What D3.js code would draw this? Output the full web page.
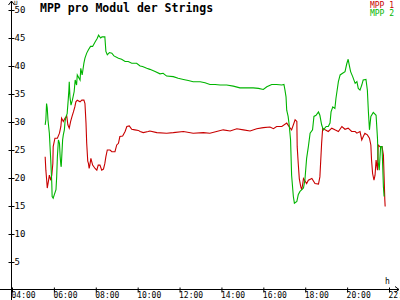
<!DOCTYPE html>
<html><head><meta charset="utf-8">
<script src="https://cdn.jsdelivr.net/npm/d3@7"></script>
<style>
html,body{margin:0;padding:0;background:#fff;}
svg{display:block;}
text{font-family:"DejaVu Sans Mono","Liberation Mono",monospace;}
</style></head>
<body><svg id="c" width="400" height="300"></svg>
<script>
// time in minutes after midnight, voltage in V
const title = "MPP pro Modul der Strings";
const seriesNames = ["MPP 1", "MPP 2"];
const xTickValues = [240, 360, 480, 600, 720, 840, 960, 1080, 1200, 1320];
const xTickLabels = ["04:00","06:00","08:00","10:00","12:00","14:00","16:00","18:00","20:00","22:00"];
const yTickValues = [5,10,15,20,25,30,35,40,45,50];
const yUnit = "U";
const xUnit = "h";

const mpp1Time = [335,337,339,341,344,347,351,354,357,358,363,370,376,380,382,387,392,397,400,404,408,412,416,420,423,427,435,440,446,449,452,454,457,459,461,463,466,471,478,483,487,492,497,502,506,509,513,521,526,535,540,545,549,557,564,569,576,583,592,602,607,616,630,635,655,683,702,731,759,788,807,826,845,865,884,903,922,941,960,979,989,998,1013,1027,1036,1041,1051,1056,1057,1060,1063,1067,1070,1073,1075,1079,1084,1089,1099,1108,1118,1122,1127,1130,1137,1146,1156,1165,1175,1185,1194,1203,1213,1223,1228,1237,1242,1247,1251,1258,1264,1268,1270,1273,1277,1280,1283,1287,1289,1294,1300,1304,1306,1308,1309];
const mpp1Value = [23.8,21.4,19.9,18.2,19.3,20.5,19.6,20.5,22.6,25.6,27.1,27.1,28,29.2,30.7,30.1,30.7,31,29.5,28.9,30.1,31,31.8,32.7,33.6,33.9,33.6,33.9,33.9,33.3,29.8,26.2,23,22.6,21.7,22.3,23.5,22.3,21.7,21.4,22.3,22.3,21.4,21.6,22.6,23.8,25,25,24.7,24.7,25.9,26.2,27.4,27.5,28.3,29.2,29.3,28.7,28.6,28.5,28.3,28.1,28.3,28.4,28.1,28,28.1,28.3,28,28.1,28,28.3,28.6,28.4,28.8,28.6,28.4,28.8,29,29.1,28.8,29.2,29.2,29.8,29,28.6,30.4,30.1,25.6,22.6,19.9,18.5,17.9,19,19.9,19.5,19,19.6,19.9,19,18.9,20.2,26.2,28.9,28.6,28.3,28.9,28.6,28.3,29.2,28.7,28.9,28.3,28.3,28,28.3,26.8,27.5,28,27.7,27.1,25.9,23.2,20.8,19.6,20.5,23.2,21.4,25.9,25.6,25.6,24.1,20.2,16.1,14.9];

const mpp2Time = [335,337,339,341,343,347,351,354,355,358,361,366,368,370,373,376,378,380,381,383,385,387,390,392,395,398,401,403,404,406,409,413,418,421,425,427,435,437,441,446,449,454,459,465,471,478,484,488,494,498,506,509,513,519,526,532,545,554,564,573,583,597,607,614,626,635,650,664,673,683,702,716,731,745,759,779,793,807,822,836,855,874,893,912,931,946,960,970,984,998,1013,1019,1022,1025,1027,1031,1034,1038,1041,1046,1049,1056,1060,1065,1075,1079,1084,1089,1094,1101,1105,1111,1118,1122,1127,1132,1140,1146,1151,1154,1159,1165,1168,1175,1180,1187,1194,1199,1203,1206,1210,1216,1223,1228,1232,1237,1242,1246,1254,1258,1261,1264,1268,1275,1283,1287,1289,1292,1296,1300,1304,1306];
const mpp2Value = [29.5,30.4,33.3,32.5,30.4,28,23.2,19,16.7,16.4,17,17.9,20.2,23.8,26.8,26.2,23.8,22.3,22,24.4,26.8,27.7,28.6,30.1,31,31.5,33.9,35.7,37.2,34.5,33,33.9,35.4,37.5,36.6,38.4,37.5,39.6,38.4,40.5,41.4,42.3,42.9,43.5,43.5,44.3,44.9,45.5,45.0,45.2,45.2,42.6,42,42.4,42.3,41.8,41.4,41.2,40.8,40.8,40.5,40.5,40.0,39.9,39.6,39.4,39,38.6,38.7,38.2,38.1,37.8,37.6,37.4,37.2,37.2,37,36.7,36.7,36.6,36.6,36.4,36.1,36.1,36.1,36.0,35.8,36.3,36.7,36.7,36.6,36.7,35.7,34.5,32.1,31,29.5,26.8,20.5,16.7,15.5,15.8,17,17.6,18.2,19.6,23.5,25.6,28,28.6,31,31.2,31.8,31.2,29.5,28.6,29.2,29.2,29.8,31.8,32.7,32.4,34.2,37.2,38.4,38.7,39,40.4,41.2,40.2,39,38.1,36.9,37.2,36,35.7,36.6,37.5,37.6,35.7,31.8,28.6,31,31.7,31.2,27.1,22.9,21.4,25.6,25.6,18.4,16.7];

const colors = ["#c80000", "#00b400"];

const svg = d3.select("#c");
const x = d3.scaleLinear().domain([240, 1320]).range([12, 389]);
const y = d3.scaleLinear().domain([0, 50]).range([290, 10]);
const ax0 = 11.5, ay0 = 289.5;

// axes lines with arrows
const g = svg.append("g").attr("stroke", "#000").attr("fill", "none").attr("stroke-width", 1);
g.append("line").attr("x1", ax0).attr("x2", ax0).attr("y1", 300).attr("y2", 1);
g.append("path").attr("d", `M${ax0-3},${5} L${ax0},${1} L${ax0+3},${5}`);
g.append("line").attr("x1", 0).attr("x2", 399).attr("y1", ay0).attr("y2", ay0);
g.append("path").attr("d", `M${395},${ay0-3} L${399},${ay0} L${395},${ay0+3}`);

// y axis
const yAxis = d3.axisRight(y).tickValues(yTickValues).tickSize(3).tickSizeOuter(0).tickFormat(d3.format("d"));
const ya = svg.append("g").attr("transform", `translate(${ax0},0)`).call(yAxis);
ya.select(".domain").remove();
ya.selectAll(".tick line").attr("x1", -3).attr("x2", 3).attr("stroke", "#000");
ya.selectAll(".tick text").attr("x", 3).attr("font-size", 9).attr("font-family", "DejaVu Sans Mono").attr("fill", "#000");

// x axis
const xAxis = d3.axisBottom(x).tickValues(xTickValues).tickSize(4).tickSizeOuter(0).tickFormat((d, i) => xTickLabels[i]);
const xa = svg.append("g").attr("transform", `translate(0,${ay0})`).call(xAxis);
xa.select(".domain").remove();
xa.selectAll(".tick line").attr("y1", -2).attr("y2", 3).attr("stroke", "#000");
xa.selectAll(".tick text").attr("text-anchor", "start").attr("x", -1).attr("y", 3).attr("dy", "0.71em")
  .attr("font-size", 8).attr("font-family", "DejaVu Sans Mono").attr("fill", "#000");

// unit labels
svg.append("text").attr("x", 14).attr("y", 5).attr("font-size", 6).text(yUnit);
svg.append("text").attr("x", 385).attr("y", 284).attr("font-size", 8).text(xUnit);

// lines
const line = d3.line().x(d => x(d[0])).y(d => y(d[1]));
const series = [d3.zip(mpp1Time, mpp1Value), d3.zip(mpp2Time, mpp2Value)];
series.forEach((s, i) => {
  svg.append("path").datum(s).attr("d", line).attr("fill", "none")
    .attr("stroke", colors[i]).attr("stroke-width", 1.1).attr("stroke-linejoin", "miter");
});

// title
svg.append("text").attr("x", 40).attr("y", 12).attr("font-size", 11.5).attr("font-weight", "bold")
  .attr("fill", "#000").text(title);

// legend
seriesNames.forEach((n, i) => {
  svg.append("text").attr("x", 394).attr("y", 8 + i * 8).attr("text-anchor", "end")
    .attr("font-size", 8).attr("fill", colors[i]).text(n);
});
</script></body></html>
